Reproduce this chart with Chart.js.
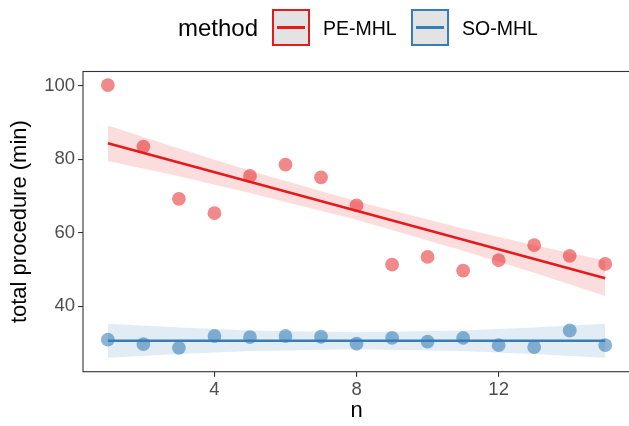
<!DOCTYPE html>
<html>
<head>
<meta charset="utf-8">
<script src="https://cdn.jsdelivr.net/npm/chart.js@4.4.1/dist/chart.umd.min.js"></script>
<style>
  html, body { margin: 0; padding: 0; background: #fff; overflow: hidden; width: 629px; height: 426px; }
  #wrap { position: absolute; left: 0; top: 0; width: 637px; height: 426px; }
  .lg { position: absolute; font-family: 'Liberation Sans', Arial, sans-serif; color: #000; white-space: nowrap; line-height: 1; }
  .key { position: absolute; box-sizing: border-box; width: 38px; height: 37px; background: #e3e3e3; border: 2px solid; }
  .key i { position: absolute; left: 3px; right: 3px; top: 15px; height: 3px; }
</style>
</head>
<body>
<div id="wrap"><canvas id="c"></canvas></div>

<div class="lg" style="left:178px; top:16px; font-size:24px;">method</div>
<div class="key" style="left:272px; top:9px; border-color:#E41A1C;"><i style="background:#E41A1C"></i></div>
<div class="lg" style="left:323px; top:19px; font-size:19.5px;">PE-MHL</div>
<div class="key" style="left:411px; top:9px; border-color:#377EB8;"><i style="background:#377EB8"></i></div>
<div class="lg" style="left:462px; top:19px; font-size:19.5px;">SO-MHL</div>

<script>
// ---- data ----
const nValues = [1, 2, 3, 4, 5, 6, 7, 8, 9, 10, 11, 12, 13, 14, 15];
const peTotal = [100.1, 83.4, 69.2, 65.3, 75.4, 78.5, 75.0, 67.4, 51.3, 53.4, 49.7, 52.5, 56.6, 53.7, 51.5];
const soTotal = [30.9, 29.7, 28.7, 31.9, 31.6, 31.9, 31.7, 29.8, 31.4, 30.4, 31.4, 29.4, 28.9, 33.4, 29.4];

// fitted lines (lm) and their confidence bands
const fitX = [1, 15];
const peFit = [84.3, 47.6];
const soFit = [30.6, 30.6];
const bandX = [1, 3, 5, 8, 11, 13, 15];
const peUpper = [89.1, 82.9, 76.8, 68.5, 61.1, 56.6, 52.4];
const peLower = [79.5, 75.3, 70.8, 63.5, 55.1, 49.1, 42.8];
const soUpper = [35.2, 34.2, 33.4, 32.9, 33.4, 34.2, 35.2];
const soLower = [26.0, 27.0, 27.8, 28.3, 27.8, 27.0, 26.0];

const xTicks = [4, 8, 12];
const yTicks = [40, 60, 80, 100];

const RED = '#E41A1C', BLUE = '#377EB8';
const FONT = "'Liberation Sans', Arial, sans-serif";

const pts = (xs, ys) => xs.map((x, i) => ({ x, y: ys[i] }));

const line = (xs, ys, color) => ({
  data: pts(xs, ys), showLine: true, borderColor: color, borderWidth: 2.6,
  pointRadius: 0, tension: 0, order: 0
});
const band = (xs, ys, fill) => ({
  data: pts(xs, ys), showLine: true, borderWidth: 0, borderColor: 'rgba(0,0,0,0)',
  pointRadius: 0, tension: 0, fill: fill ? '+1' : false, backgroundColor: fill, order: 1
});
const dots = (xs, ys, color) => ({
  data: pts(xs, ys), pointRadius: 6.9, pointBackgroundColor: color, pointBorderWidth: 0, order: 2
});

const frame = {
  id: 'frame',
  afterDraw(chart) {
    const { ctx, chartArea: a } = chart;
    ctx.save();
    ctx.strokeStyle = '#333';
    ctx.lineWidth = 1.1;
    ctx.strokeRect(a.left, a.top, a.right - a.left, a.bottom - a.top);
    ctx.restore();
  }
};

const tickGrid = { display: true, drawOnChartArea: false, drawTicks: true, tickLength: 5, color: '#333', lineWidth: 1.1 };

new Chart(document.getElementById('c'), {
  type: 'scatter',
  data: {
    datasets: [
      line(fitX, peFit, RED),
      line(fitX, soFit, BLUE),
      band(bandX, peUpper, 'rgba(228,26,28,0.15)'),
      band(bandX, peLower, null),
      band(bandX, soUpper, 'rgba(55,126,184,0.15)'),
      band(bandX, soLower, null),
      dots(nValues, peTotal, 'rgba(228,26,28,0.52)'),
      dots(nValues, soTotal, 'rgba(55,126,184,0.58)')
    ]
  },
  options: {
    responsive: true, maintainAspectRatio: false, animation: false, events: [],
    layout: { padding: { top: 71.5, right: 2, left: 0, bottom: 0 } },
    plugins: { legend: { display: false }, tooltip: { enabled: false } },
    scales: {
      x: {
        type: 'linear', min: 0.3, max: 15.7,
        afterBuildTicks: s => { s.ticks = xTicks.map(v => ({ value: v })); },
        afterFit: s => { s.height = 54.3; },
        grid: tickGrid, border: { display: false },
        ticks: { color: '#4d4d4d', font: { family: FONT, size: 18.5 }, padding: 2, autoSkip: false, maxRotation: 0 },
        title: { display: true, text: 'n', color: '#000', font: { family: FONT, size: 22 }, padding: { top: 0, bottom: 2 } }
      },
      y: {
        type: 'linear', min: 22.2, max: 103.8,
        afterBuildTicks: s => { s.ticks = yTicks.map(v => ({ value: v })); },
        afterFit: s => { s.width = 83; },
        grid: tickGrid, border: { display: false },
        ticks: { color: '#4d4d4d', font: { family: FONT, size: 18.5 }, padding: 3, autoSkip: false },
        title: { display: true, text: 'total procedure (min)', color: '#000', font: { family: FONT, size: 22 }, padding: { top: 7, bottom: 0 } }
      }
    }
  },
  plugins: [frame]
});
</script>
</body>
</html>
